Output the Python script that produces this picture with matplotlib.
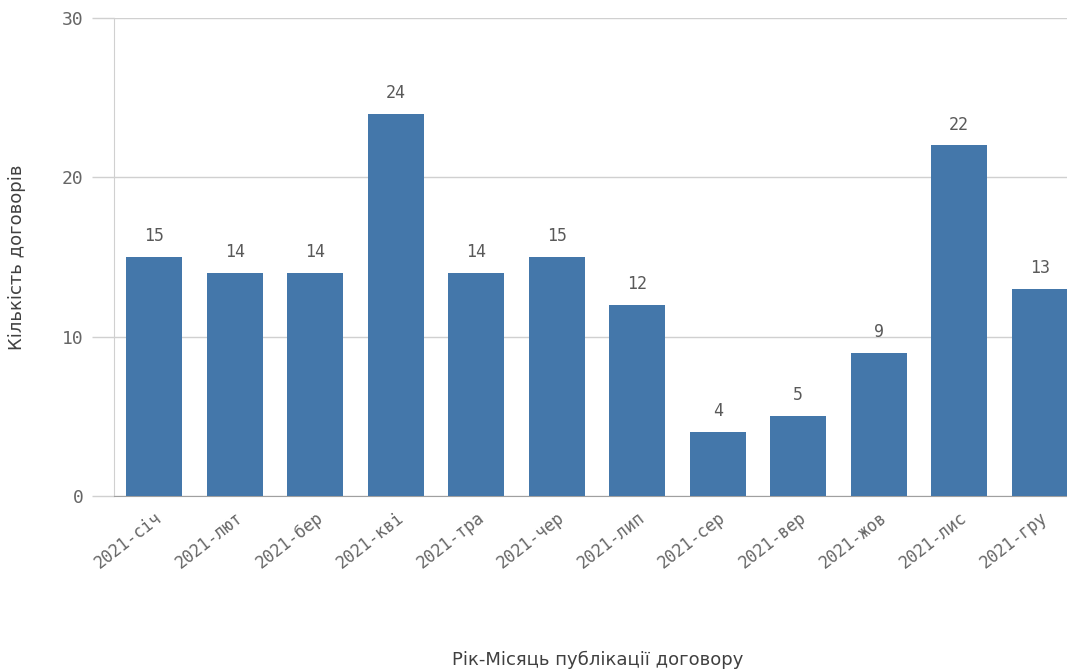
import matplotlib.pyplot as plt

months = ['2021-січ', '2021-лют', '2021-бер', '2021-кві', '2021-тра', '2021-чер',
          '2021-лип', '2021-сер', '2021-вер', '2021-жов', '2021-лис', '2021-гру']
counts = [15, 14, 14, 24, 14, 15, 12, 4, 5, 9, 22, 13]
yticks = [0, 10, 20, 30]

fig = plt.figure(figsize=(10.67, 6.71), dpi=100)
ax = fig.add_axes([114 / 1067, 175 / 671, 966 / 1067, 478 / 671])

x = list(range(len(months)))
bars = ax.bar(x, counts, width=0.69, color='#4477aa', zorder=3)
ax.set_xlim(-0.5, 11.5)
ax.set_ylim(0, 30)

for xi, v in zip(x, counts):
    ax.text(xi, v + 0.75, str(v), ha='center', va='bottom',
            family='DejaVu Sans Mono', fontsize=12, color='#595959')

ax.set_yticks(yticks)
ax.set_yticklabels([str(t) for t in yticks], family='DejaVu Sans Mono',
                   fontsize=13, color='#666666')
ax.tick_params(axis='y', length=16, color='#d0d0d0', width=1, pad=6)
ax.yaxis.grid(True, color='#d0d0d0', linewidth=1, zorder=0)

ax.set_xticks(x)
ax.set_xticklabels(months, rotation=38, ha='right', rotation_mode='anchor',
                   family='DejaVu Sans Mono', fontsize=12, color='#666666')
ax.tick_params(axis='x', length=0, pad=9)

for s in ['top', 'right']:
    ax.spines[s].set_visible(False)
ax.spines['left'].set_color('#d0d0d0')
ax.spines['bottom'].set_color('#a0a0a0')

ax.set_ylabel('Кількість договорів', fontsize=13, color='#404040', labelpad=26)
fig.text(598 / 1067, 2 / 671, 'Рік-Місяць публікації договору', ha='center',
         va='bottom', fontsize=13, color='#404040')

fig.savefig('out.png', dpi=100)
